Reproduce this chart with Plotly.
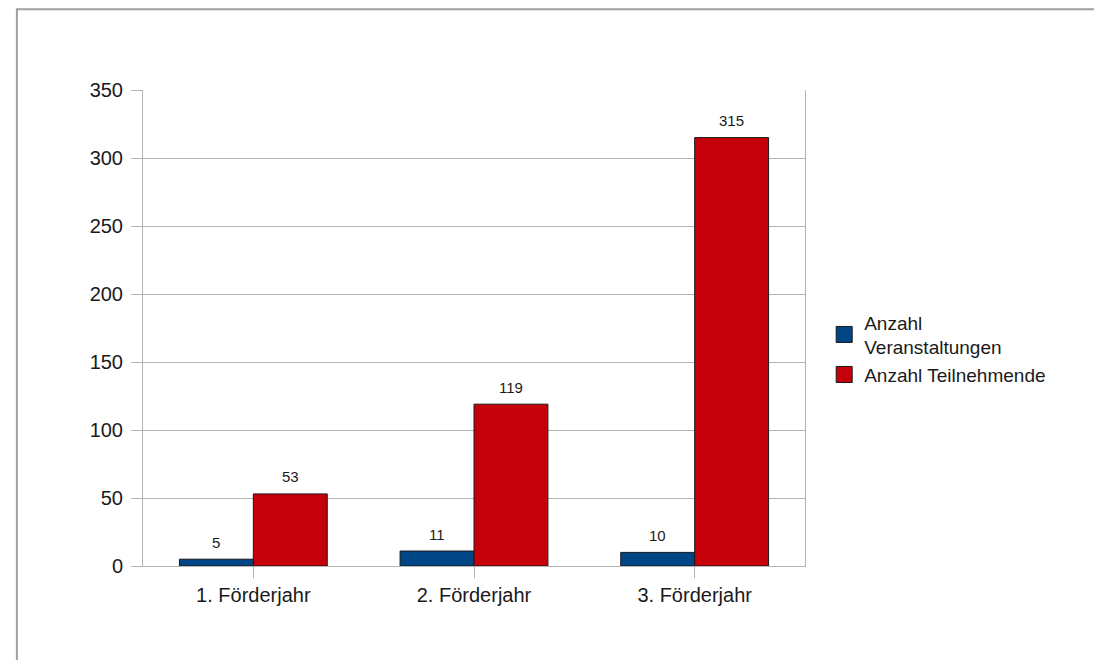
import plotly.graph_objects as go

# Chart data
categories = ["1. Förderjahr", "2. Förderjahr", "3. Förderjahr"]
veranstaltungen = [5, 11, 10]
teilnehmende = [53, 119, 315]
series_names = ["Anzahl<br>Veranstaltungen", "Anzahl Teilnehmende"]
y_ticks = [0, 50, 100, 150, 200, 250, 300, 350]

BLUE = "#004586"
RED = "#c5000b"
GRID = "#b3b3b3"
TEXT = "#1a1a1a"
FONT = "Liberation Sans, Arial, sans-serif"

BAR_W = 0.335
series = [
    (veranstaltungen, BLUE, -BAR_W),
    (teilnehmende, RED, 0.0),
]

fig = go.Figure()
idx = list(range(len(categories)))

for (vals, color, off), name in zip(series, series_names):
    fig.add_trace(go.Bar(
        x=idx, y=vals, width=BAR_W, offset=off,
        marker=dict(color=color, line=dict(color="#1a1a1a", width=1)),
        showlegend=False, hoverinfo="skip",
    ))
    # value labels above each bar
    for i, v in zip(idx, vals):
        fig.add_annotation(
            x=i + off + BAR_W / 2, y=v, xref="x", yref="y",
            text=str(v), showarrow=False, yshift=17, yanchor="middle",
            font=dict(family=FONT, size=15, color=TEXT),
        )
    # legend entry with a square swatch
    fig.add_trace(go.Scatter(
        x=[None], y=[None], mode="markers", name=name,
        marker=dict(symbol="square", size=16, color=color,
                    line=dict(color="#1a1a1a", width=1)),
    ))

# outer chart frame
fig.add_shape(type="rect", xref="paper", yref="paper",
              x0=-0.1905, x1=2.0, y0=-1.0, y1=1.1695,
              line=dict(color="#a0a0a0", width=2), layer="below")

fig.update_layout(
    width=1094, height=660,
    margin=dict(l=143, r=289, t=90, b=94),
    paper_bgcolor="white", plot_bgcolor="white",
    barmode="overlay",
    font=dict(family=FONT, size=20, color=TEXT),
    legend=dict(x=1.029, y=0.552, xanchor="left", yanchor="top",
                font=dict(family=FONT, size=19, color=TEXT),
                itemsizing="trace", tracegroupgap=0, bgcolor="rgba(0,0,0,0)"),
    xaxis=dict(
        tickmode="array", tickvals=idx, ticktext=categories,
        range=[-0.5, len(categories) - 0.5],
        showgrid=False, showline=True, linecolor=GRID, linewidth=1,
        ticks="outside", ticklen=11, tickcolor=GRID, tickson="boundaries",
        zeroline=False, tickfont=dict(size=20),
    ),
    yaxis=dict(
        range=[0, 350], tickvals=y_ticks,
        showgrid=True, gridcolor=GRID, gridwidth=1,
        showline=True, linecolor=GRID, linewidth=1, mirror=True,
        ticks="outside", ticklen=11, tickcolor=GRID,
        zeroline=False, tickfont=dict(size=20), ticklabelstandoff=4,
    ),
)

fig.write_html("out.html")
